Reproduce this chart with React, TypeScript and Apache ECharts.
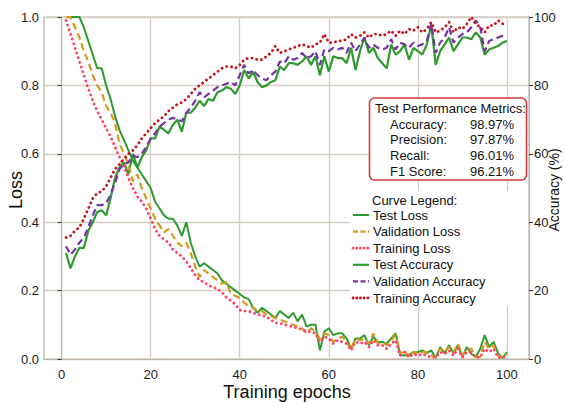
import React, { useEffect, useRef } from "react";
import * as echarts from "echarts";

const epochs: number[] = Array.from({ length: 100 }, (_, i) => i + 1);

const testLoss = [1.0, 1.0, 1.0, 1.0, 0.97, 0.93, 0.89, 0.85, 0.85, 0.8,
  0.76, 0.71, 0.67, 0.64, 0.61, 0.58, 0.56, 0.54, 0.52, 0.5,
  0.46, 0.44, 0.42, 0.41, 0.41, 0.39, 0.36, 0.4, 0.34, 0.3,
  0.27, 0.28, 0.27, 0.26, 0.25, 0.23, 0.22, 0.21, 0.2, 0.19,
  0.18, 0.175, 0.15, 0.135, 0.15, 0.14, 0.13, 0.12, 0.14, 0.13,
  0.12, 0.135, 0.11, 0.13, 0.095, 0.1, 0.1, 0.025, 0.08, 0.09,
  0.07, 0.075, 0.075, 0.06, 0.03, 0.06, 0.06, 0.07, 0.04, 0.065,
  0.05, 0.05, 0.045, 0.06, 0.075, 0.012, 0.01, 0.012, 0.02, 0.02,
  0.025, 0.017, 0.025, 0.003, 0.035, 0.017, 0.04, 0.017, 0.04, 0.006,
  0.035, 0.015, 0.006, 0.03, 0.07, 0.035, 0.05, 0.017, 0.003, 0.02];

const valLoss = [1.0, 1.0, 0.97, 0.94, 0.9, 0.87, 0.83, 0.8, 0.78, 0.74,
  0.72, 0.69, 0.63, 0.6, 0.57, 0.52, 0.54, 0.5, 0.47, 0.44,
  0.41, 0.39, 0.37, 0.38, 0.36, 0.34, 0.33, 0.34, 0.31, 0.27,
  0.24, 0.26, 0.25, 0.24, 0.23, 0.22, 0.225, 0.19, 0.185, 0.178,
  0.165, 0.155, 0.15, 0.14, 0.14, 0.13, 0.125, 0.12, 0.115, 0.11,
  0.105, 0.1, 0.095, 0.09, 0.075, 0.09, 0.08, 0.06, 0.075, 0.07,
  0.05, 0.06, 0.065, 0.05, 0.026, 0.06, 0.055, 0.06, 0.045, 0.075,
  0.045, 0.05, 0.04, 0.055, 0.07, 0.015, 0.026, 0.005, 0.02, 0.015,
  0.02, 0.02, 0.01, 0.005, 0.03, 0.02, 0.035, 0.02, 0.045, 0.01,
  0.03, 0.03, 0.006, 0.006, 0.05, 0.03, 0.04, 0.01, 0.005, 0.015];

const trainLoss = [0.99, 0.95, 0.91, 0.87, 0.83, 0.79, 0.755, 0.725, 0.7, 0.675,
  0.65, 0.62, 0.59, 0.565, 0.53, 0.5, 0.475, 0.46, 0.44, 0.41,
  0.38, 0.36, 0.35, 0.34, 0.32, 0.31, 0.3, 0.285, 0.266, 0.245,
  0.23, 0.225, 0.215, 0.21, 0.205, 0.195, 0.18, 0.17, 0.16, 0.143,
  0.14, 0.14, 0.135, 0.13, 0.128, 0.123, 0.115, 0.105, 0.105, 0.1,
  0.097, 0.094, 0.09, 0.087, 0.08, 0.08, 0.075, 0.05, 0.065, 0.06,
  0.045, 0.055, 0.05, 0.045, 0.026, 0.05, 0.045, 0.05, 0.035, 0.055,
  0.04, 0.04, 0.03, 0.045, 0.055, 0.01, 0.02, 0.005, 0.015, 0.01,
  0.015, 0.01, 0.005, 0.005, 0.02, 0.015, 0.025, 0.01, 0.03, 0.005,
  0.02, 0.02, 0.005, 0.005, 0.03, 0.02, 0.03, 0.005, 0.003, 0.01];

const testAcc = [31, 26.5, 30, 32.5, 32.5, 37.5, 40, 43, 43.5, 42,
  47, 53, 56, 57.5, 54, 60, 56, 59, 61, 64.5,
  64.5, 68, 67, 66, 68.5, 70, 66.5, 72, 72, 73.5,
  75.5, 74, 76, 75.5, 78, 78.5, 79.5, 79, 77.5, 80,
  84.5, 82, 84, 81, 79.5, 80, 81, 81.5, 85.5, 84.5,
  86.5, 86.5, 86, 87, 88.5, 86, 88.5, 83, 88.5, 84,
  88.5, 88, 88, 86.5, 91, 84.5, 90, 94, 89.5, 91,
  88, 86.5, 85, 92, 89, 90, 92, 87.5, 91, 90,
  89, 92, 97.7, 86, 90, 92, 94, 90, 92, 94,
  94, 93.5, 95.5, 94, 89, 90.5, 91, 91.5, 92.5, 93];

const valAcc = [33, 30.5, 32, 34, 35.5, 38.5, 42, 45, 45, 45.5,
  48, 51.5, 55.5, 57, 57.5, 59.5, 59, 60, 62, 64.5,
  66, 68, 69, 70, 70.5, 70, 69.5, 72, 73.5, 75.5,
  78, 76.5, 77.5, 78.5, 79.5, 80, 80.5, 81, 80, 83,
  86, 83.5, 84.5, 83, 82, 81.5, 83, 84, 87, 86.5,
  88.5, 87.5, 88, 89.5, 88, 88.5, 90, 86, 90.5, 90,
  91, 90.5, 91, 89.5, 92.5, 90, 92, 94, 91, 92,
  91, 90.5, 91, 93.5, 90.5, 92.5, 92, 91, 92.5, 91.5,
  92, 93, 98, 89.5, 92.5, 94, 97, 92.5, 94, 95,
  95.5, 97, 99, 97, 90, 93, 93.5, 94, 94.5, 94.5];

const trainAcc = [35.5, 36, 37.5, 38.5, 41, 44, 47, 48.5, 49, 50.5,
  53, 55.5, 57, 58.5, 60, 61, 62.5, 64.5, 66, 67.5,
  69, 70, 71, 72.5, 73.5, 74.5, 75, 76, 77.5, 79,
  80, 81, 82, 83, 84, 85, 85.5, 85.5, 85, 86,
  87.5, 88, 88, 87.5, 87.5, 88.5, 89.5, 91.5, 89.5, 90,
  90.5, 91, 91.5, 92, 91.5, 91, 92, 92.5, 95, 92.5,
  92.5, 93, 93, 93.5, 95, 94, 94.5, 95.5, 94, 95,
  95, 94.5, 95, 96, 94.5, 96, 95, 96.5, 96, 97,
  95.5, 96.5, 98.5, 95.5, 96, 97, 98.5, 95.5, 97, 96.5,
  98, 100, 98, 97, 95.5, 97.5, 97.5, 99, 98, 98.5];

const xTicks = [0, 20, 40, 60, 80, 100];
const metricNames = ["Accuracy:", "Precision:", "Recall:", "F1 Score:"];
const metricValues = ["98.97%", "97.87%", "96.01%", "96.21%"];
const legendNames = ["Test Loss", "Validation Loss", "Training Loss", "Test Accuracy", "Validation Accuracy", "Training Accuracy"];

const FONT = "Liberation Sans, Arial, sans-serif";
const GREEN = "#2f9a2f";
const ORANGE = "#d39a1e";
const PINK = "#ff4563";
const PURPLE = "#7434a8";
const DARKRED = "#c4141e";
const GRIDC = "#d6cdc4";

const styles = [
  { color: GREEN, type: "solid" as any, width: 2 },
  { color: ORANGE, type: [7, 4] as any, width: 2.2 },
  { color: PINK, type: [0.1, 4.8] as any, width: 2.8, cap: "round" },
  { color: GREEN, type: "solid" as any, width: 2.2 },
  { color: PURPLE, type: [7, 4] as any, width: 2.2 },
  { color: DARKRED, type: [0.1, 4.8] as any, width: 2.8, cap: "round" },
];

export default function App() {
  const ref = useRef<HTMLDivElement>(null);
  useEffect(() => {
    if (!ref.current) return;
    const chart = echarts.init(ref.current, undefined, { renderer: "svg" });
    const lossSets = [testLoss, valLoss, trainLoss];
    const accSets = [testAcc, valAcc, trainAcc];
    const series: any[] = [];
    lossSets.forEach((arr, i) => {
      series.push({
        name: legendNames[i], type: "line", yAxisIndex: 0, xAxisIndex: 0,
        data: epochs.map((e, j) => [e, arr[j]]), showSymbol: false, symbol: "none",
        lineStyle: styles[i], z: 3 + i, clip: true,
      });
    });
    accSets.forEach((arr, i) => {
      series.push({
        name: legendNames[i + 3], type: "line", yAxisIndex: 1, xAxisIndex: 0,
        data: epochs.map((e, j) => [e, arr[j]]), showSymbol: false, symbol: "none",
        lineStyle: styles[i + 3], z: 3 + i, clip: true,
      });
    });

    const graphics: any[] = [];
    graphics.push({ type: "text", x: 16, y: 190, rotation: Math.PI / 2, style: { text: "Loss", font: `18px ${FONT}`, fill: "#111", align: "center", verticalAlign: "middle" } });
    graphics.push({ type: "text", x: 554, y: 190, rotation: Math.PI / 2, style: { text: "Accuracy (%)", font: `14px ${FONT}`, fill: "#111", align: "center", verticalAlign: "middle" } });
    graphics.push({ type: "text", x: 287, y: 392, style: { text: "Training epochs", font: `18px ${FONT}`, fill: "#111", align: "center", verticalAlign: "middle" } });

    graphics.push({ type: "rect", shape: { x: 369.5, y: 98, width: 157, height: 82, r: 5 }, style: { fill: "#fff", stroke: "#d43a3a", lineWidth: 1.6 }, z: 100 });
    graphics.push({ type: "text", x: 375, y: 108, style: { text: "Test Performance Metrics:", font: `13px ${FONT}`, fill: "#111", verticalAlign: "middle" }, z: 101 });
    metricNames.forEach((n, i) => {
      graphics.push({ type: "text", x: 390, y: 124 + i * 15.7, style: { text: n, font: `13px ${FONT}`, fill: "#111", verticalAlign: "middle" }, z: 101 });
      graphics.push({ type: "text", x: 470, y: 124 + i * 15.7, style: { text: metricValues[i], font: `13px ${FONT}`, fill: "#111", verticalAlign: "middle" }, z: 101 });
    });

    graphics.push({ type: "rect", shape: { x: 350, y: 191, width: 178, height: 115 }, style: { fill: "#fff" }, z: 100 });
    graphics.push({ type: "text", x: 372, y: 200, style: { text: "Curve Legend:", font: `13px ${FONT}`, fill: "#111", verticalAlign: "middle" }, z: 101 });
    legendNames.forEach((n, i) => {
      const y = 215 + i * 16.6;
      const s = styles[i];
      const dash = Array.isArray(s.type) ? (s.type[0] < 1 ? [0.1, 3.6] : [5, 2.5]) : null;
      graphics.push({ type: "line", shape: { x1: 353, y1: y, x2: 369, y2: y }, style: { stroke: s.color, lineWidth: s.width, lineDash: dash, lineCap: (s as any).cap || "butt" }, z: 101 });
      graphics.push({ type: "text", x: 373, y, style: { text: n, font: `13px ${FONT}`, fill: "#111", verticalAlign: "middle" }, z: 101 });
    });

    chart.setOption({
      animation: false,
      backgroundColor: "#fff",
      textStyle: { fontFamily: FONT },
      grid: { left: 44, right: 37, top: 17, bottom: 44, show: true, borderColor: "#bdb4ab", borderWidth: 1.2, backgroundColor: "transparent" },
      xAxis: {
        type: "value", min: -3.95, max: 104.95,
        axisLine: { show: true, lineStyle: { color: "#bdb4ab", width: 1.2 } },
        axisTick: { show: false, customValues: xTicks },
        axisLabel: { customValues: xTicks, fontSize: 13, color: "#1a1a1a", margin: 9, fontFamily: FONT },
        splitLine: { show: true, lineStyle: { color: GRIDC, width: 1.3 } },
      },
      yAxis: [
        {
          type: "value", min: 0, max: 1, interval: 0.2, position: "left",
          axisLine: { show: true, lineStyle: { color: "#bdb4ab", width: 1.2 } },
          axisTick: { show: true, length: 4, lineStyle: { color: "#333" } },
          axisLabel: { formatter: (v: number) => v.toFixed(1), fontSize: 13, color: "#1a1a1a", margin: 5, fontFamily: FONT },
          splitLine: { show: true, lineStyle: { color: GRIDC, width: 1.3 } },
        },
        {
          type: "value", min: 0, max: 100, interval: 20, position: "right",
          axisLine: { show: true, lineStyle: { color: "#bdb4ab", width: 1.2 } },
          axisTick: { show: true, length: 4, lineStyle: { color: "#333" } },
          axisLabel: { fontSize: 13, color: "#1a1a1a", margin: 5, fontFamily: FONT },
          splitLine: { show: false },
        },
      ],
      series,
      graphic: graphics,
    });
    return () => chart.dispose();
  }, []);
  return <div ref={ref} style={{ position: "fixed", left: 0, top: 0, width: 566, height: 403 }} />;
}
